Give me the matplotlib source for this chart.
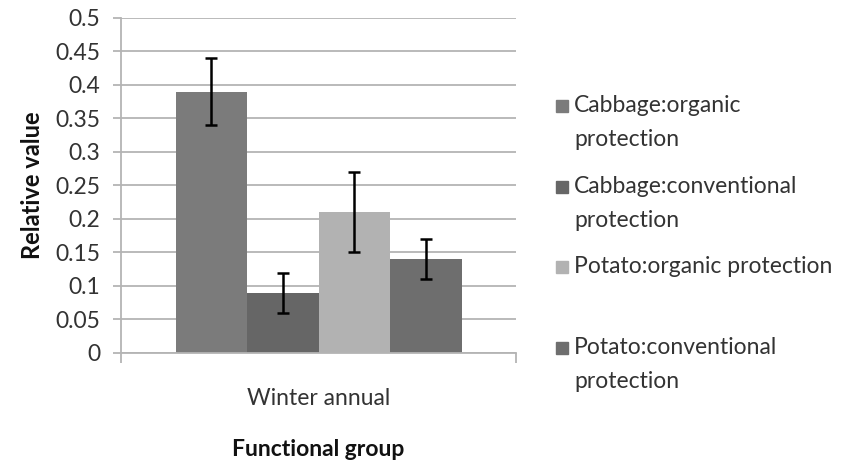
import numpy as np
import matplotlib
matplotlib.use("Agg")
import matplotlib.pyplot as plt
from matplotlib.patches import Rectangle

plt.rcParams['font.family'] = ['Lato', 'DejaVu Sans']

category = "Winter annual"
series = ["Cabbage:organic\nprotection", "Cabbage:conventional\nprotection",
          "Potato:organic protection", "Potato:conventional\nprotection"]
values = [0.39, 0.09, 0.21, 0.14]
errors = [0.05, 0.03, 0.06, 0.03]
colors = ["#7b7b7b", "#666666", "#b2b2b2", "#6e6e6e"]
yticks = [0, 0.05, 0.1, 0.15, 0.2, 0.25, 0.3, 0.35, 0.4, 0.45, 0.5]

fig = plt.figure(figsize=(8.41, 4.65), dpi=100)
ax = fig.add_axes([0.1439, 0.2409, 0.4697, 0.7204])

w = 0.181
offsets = (np.arange(len(values)) - 1.5) * w
for i in range(len(values)):
    ax.bar(offsets[i], values[i], w, color=colors[i], zorder=2)
    ax.errorbar(offsets[i], values[i], yerr=errors[i], fmt='none', ecolor='black',
                elinewidth=1.8, capsize=4.5, capthick=1.8, zorder=3)

ax.set_xlim(-0.5, 0.5)
ax.set_ylim(0, 0.5)
ax.set_yticks(yticks)
ax.set_yticklabels([('%g' % t) for t in yticks])
ax.yaxis.grid(True, color='#b4b4b4', linewidth=1.3, zorder=0)
ax.set_axisbelow(True)

for s in ['top', 'right']:
    ax.spines[s].set_visible(False)
for s in ['left', 'bottom']:
    ax.spines[s].set_color('#b4b4b4')
    ax.spines[s].set_linewidth(1.3)

ax.tick_params(axis='y', direction='out', length=6, width=1.3, color='#b4b4b4',
               labelsize=16.5, labelcolor='#333333', pad=9)
ax.set_xticks([-0.5, 0.5])
ax.set_xticklabels(['', ''])
ax.set_xticks([0], minor=True)
ax.set_xticklabels([category], minor=True)
ax.tick_params(axis='x', which='major', direction='out', length=7, width=1.3, color='#b4b4b4')
ax.tick_params(axis='x', which='minor', length=0, labelsize=16.5, labelcolor='#333333', pad=25)

ax.set_ylabel("Relative value", fontsize=17, fontweight='bold', labelpad=8, color='#111111')
ax.set_xlabel("Functional group", fontsize=16.5, fontweight='bold', labelpad=22, color='#111111')

# legend, entries placed like the original (marker next to first line)
leg_y = [106, 187, 267, 348]
for i in range(len(series)):
    y = 1 - leg_y[i] / 465
    fig.patches.append(Rectangle((556 / 841, y - 6 / 465), 12 / 841, 12 / 465,
                                 transform=fig.transFigure, color=colors[i]))
    fig.text(574 / 841, y + 11 / 465, series[i], fontsize=16.5, color='#333333',
             va='top', ha='left', linespacing=1.75)

fig.savefig("out.png", dpi=100)
